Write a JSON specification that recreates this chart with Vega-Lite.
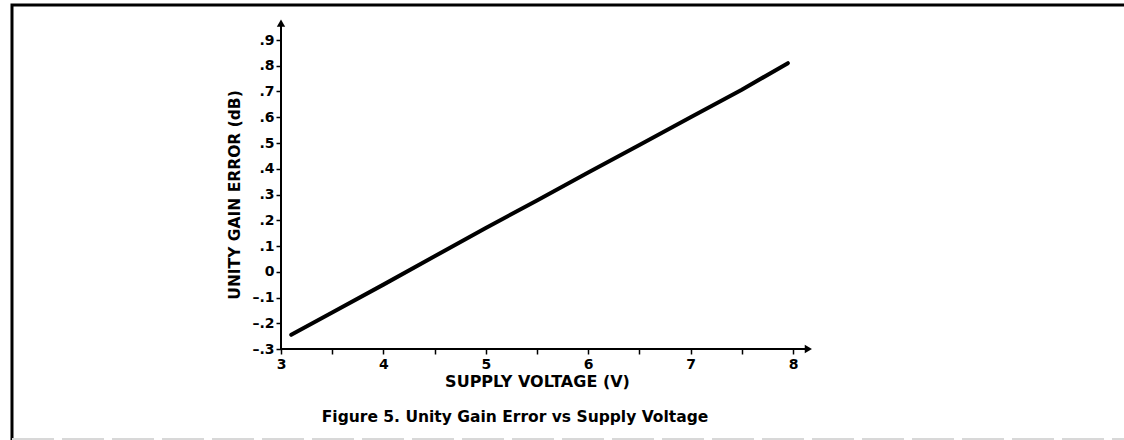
{
  "$schema": "https://vega.github.io/schema/vega-lite/v6.json",
  "autosize": "none",
  "width": 512,
  "height": 309,
  "padding": {"left": 281, "top": 40, "right": 331, "bottom": 91},
  "background": "white",
  "config": {
    "view": {"stroke": null},
    "font": "DejaVu Sans",
    "axis": {
      "grid": false,
      "domain": false,
      "tickColor": "black",
      "tickWidth": 1.5,
      "tickSize": 5,
      "labelFont": "DejaVu Sans",
      "labelFontWeight": "bold",
      "labelFontSize": 14,
      "labelColor": "black",
      "titleFont": "DejaVu Sans",
      "titleFontWeight": "bold",
      "titleFontSize": 15.5,
      "titleColor": "black"
    }
  },
  "title": {
    "text": "Figure 5.  Unity Gain Error vs Supply Voltage",
    "orient": "bottom",
    "anchor": "middle",
    "offset": -33,
    "dx": -22,
    "font": "DejaVu Sans",
    "fontSize": 15.5,
    "fontWeight": "bold",
    "color": "black"
  },
  "datasets": {
    "curve": [
      {"x": 3.1, "y": -0.245},
      {"x": 3.5, "y": -0.158},
      {"x": 4.0, "y": -0.05},
      {"x": 4.5, "y": 0.06},
      {"x": 5.0, "y": 0.17},
      {"x": 5.5, "y": 0.277},
      {"x": 6.0, "y": 0.385},
      {"x": 6.5, "y": 0.492},
      {"x": 7.0, "y": 0.6},
      {"x": 7.5, "y": 0.707},
      {"x": 7.95, "y": 0.81}
    ],
    "yAxisLine": [{"x": 3, "y": -0.3, "y2": 0.97}],
    "xAxisLine": [{"x": 3, "x2": 8.15, "y": -0.3}],
    "yArrow": [{"x": 3, "y": 0.966}],
    "xArrow": [{"x": 8.15, "y": -0.3}],
    "frame": [{"x": 0.373, "x2": 12, "y": -0.661, "y2": 1.036}],
    "bottomEdge": [{"x": 0.373, "x2": 11.3, "y": -0.6495}]
  },
  "encoding": {
    "x": {
      "field": "x",
      "type": "quantitative",
      "scale": {"domain": [3, 8], "nice": false, "zero": false},
      "axis": {
        "title": "SUPPLY VOLTAGE (V)",
        "titleFontSize": 16,
        "values": [3, 3.5, 4, 4.5, 5, 5.5, 6, 6.5, 7, 7.5, 8],
        "labelExpr": "datum.value % 1 == 0 ? format(datum.value, 'd') : ''",
        "labelPadding": 3,
        "titlePadding": 2,
        "labelFlush": false
      }
    },
    "y": {
      "field": "y",
      "type": "quantitative",
      "scale": {"domain": [-0.3, 0.9], "nice": false, "zero": false},
      "axis": {
        "title": "UNITY GAIN ERROR (dB)",
        "values": [-0.3, -0.2, -0.1, 0, 0.1, 0.2, 0.3, 0.4, 0.5, 0.6, 0.7, 0.8, 0.9],
        "labelExpr": "datum.value == 0 ? '0' : replace(replace(replace(format(datum.value, '.1f'), '0.', '.'), '−', '–'), '-', '–')",
        "labelPadding": 2,
        "titlePadding": 9,
        "labelFlush": false
      }
    }
  },
  "layer": [
    {
      "data": {"name": "frame"},
      "mark": {"type": "rect", "fill": null, "stroke": "black", "strokeWidth": 3},
      "encoding": {"x2": {"field": "x2"}, "y2": {"field": "y2"}}
    },
    {
      "data": {"name": "bottomEdge"},
      "mark": {"type": "rule", "stroke": "#d8d8d8", "strokeWidth": 2, "strokeDash": [42, 8]},
      "encoding": {"x2": {"field": "x2"}}
    },
    {
      "data": {"name": "yAxisLine"},
      "mark": {"type": "rule", "color": "black", "strokeWidth": 2},
      "encoding": {"y2": {"field": "y2"}}
    },
    {
      "data": {"name": "xAxisLine"},
      "mark": {"type": "rule", "color": "black", "strokeWidth": 2},
      "encoding": {"x2": {"field": "x2"}}
    },
    {
      "data": {"name": "yArrow"},
      "mark": {"type": "point", "shape": "triangle-up", "filled": true, "color": "black", "size": 70, "opacity": 1},
      "encoding": {}
    },
    {
      "data": {"name": "xArrow"},
      "mark": {"type": "point", "shape": "triangle-right", "filled": true, "color": "black", "size": 70, "opacity": 1},
      "encoding": {}
    },
    {
      "data": {"name": "curve"},
      "mark": {"type": "line", "color": "black", "strokeWidth": 4, "strokeCap": "round"},
      "encoding": {}
    }
  ]
}
